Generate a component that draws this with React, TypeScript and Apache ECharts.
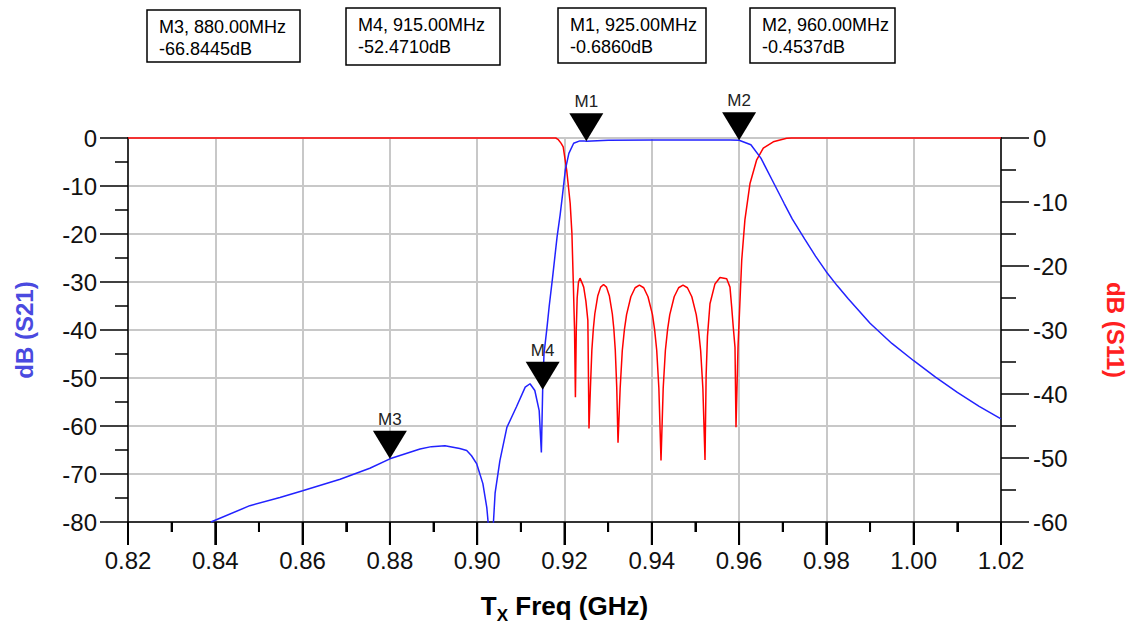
import React, { useEffect, useRef } from 'react';
import * as echarts from 'echarts';

// S21 (dB) – left axis
const s21Points: [number, number][] = [
  [0.839, -80], [0.8479, -76.6], [0.8548, -74.9], [0.86, -73.5], [0.8686, -71.1],
  [0.8754, -68.8], [0.88, -66.84], [0.8869, -64.8], [0.8895, -64.3], [0.8926, -64.1],
  [0.896, -64.7], [0.8976, -65.1], [0.8987, -66.2], [0.8999, -67.9], [0.9013, -72],
  [0.9022, -77], [0.9027, -82], [0.9031, -95], [0.9036, -82], [0.9041, -74],
  [0.9052, -67.2], [0.9068, -60.3], [0.909, -56], [0.911, -51.9], [0.9121, -51.2],
  [0.9132, -52.6], [0.9142, -56.8], [0.9145, -62], [0.9147, -65.5], [0.915, -52.47],
  [0.9153, -45], [0.916, -39.4], [0.9165, -35], [0.9172, -29.6], [0.9183, -20.6],
  [0.919, -16], [0.9195, -12.2], [0.9202, -6.6], [0.921, -3.2], [0.9221, -1.1],
  [0.9235, -0.6], [0.9244, -0.6], [0.925, -0.686], [0.93, -0.45], [0.94, -0.4],
  [0.95, -0.42], [0.958, -0.43], [0.96, -0.4537], [0.9627, -1.4], [0.965, -4.2],
  [0.9676, -8.8], [0.9703, -13.6], [0.9722, -16.9], [0.975, -21], [0.9775, -24.6],
  [0.98, -27.9], [0.9825, -30.8], [0.985, -33.5], [0.99, -38.6], [0.995, -42.8],
  [1.0, -46.4], [1.005, -49.8], [1.01, -53], [1.015, -55.9], [1.02, -58.5],
];

// S11 (dB) – right axis
const s11Points: [number, number][] = [
  [0.82, 0], [0.918, 0], [0.9185, -0.2], [0.9192, -0.8], [0.9197, -1.4], [0.9205, -5],
  [0.9213, -10.2], [0.9217, -14.9], [0.922, -22.2], [0.9223, -30], [0.9225, -40.5],
  [0.9227, -30], [0.9229, -25], [0.9232, -22.5], [0.92355, -21.9], [0.924, -22.6],
  [0.9244, -23.3], [0.9249, -25.5], [0.92535, -28.5], [0.92545, -34.8], [0.92561, -45.4],
  [0.92594, -39], [0.92627, -33.1], [0.92661, -29.8], [0.92694, -27.5], [0.92761, -24.7],
  [0.92828, -23.3], [0.92895, -22.9], [0.92962, -23.3], [0.93029, -24.7], [0.93096, -27.5],
  [0.9313, -29.8], [0.93163, -33.1], [0.93197, -39], [0.93226, -47.6],
  [0.93275, -39.1], [0.93324, -33.2], [0.93373, -29.9], [0.93422, -27.6], [0.9352, -24.8],
  [0.93618, -23.4], [0.93716, -23], [0.93815, -23.4], [0.93913, -24.8], [0.94015, -27.6],
  [0.94064, -29.9], [0.94113, -33.2], [0.94162, -39.1], [0.94211, -50.4],
  [0.94261, -39.1], [0.94311, -33.2], [0.94362, -29.9], [0.94412, -27.6], [0.94513, -24.8],
  [0.94614, -23.4], [0.94715, -23], [0.94816, -23.4], [0.94917, -24.8], [0.95018, -27.6],
  [0.95069, -29.9], [0.95119, -33.2], [0.9517, -39.1], [0.95219, -50.3],
  [0.95245, -37], [0.95275, -31], [0.95333, -25.9], [0.95447, -22.8], [0.95562, -21.8],
  [0.95716, -22], [0.95791, -23.3], [0.9583, -26.4], [0.95867, -29.6], [0.95906, -32.7],
  [0.95929, -45.2], [0.95975, -32.7], [0.9606, -19.1], [0.96133, -12.8], [0.9625, -7.1],
  [0.96403, -3.4], [0.96554, -1.6], [0.96783, -0.6], [0.9709, -0.05], [0.972, 0], [1.02, 0],
];

// Markers
const markerNames = ['M1', 'M2', 'M3', 'M4'];
const markerFreqGHz = [0.925, 0.96, 0.88, 0.915];
const markerDb = [-0.686, -0.4537, -66.8445, -52.471];

// Axes
const xMin = 0.82, xMax = 1.02, xStep = 0.02;
const leftMin = -80, leftMax = 0, leftStep = 10;
const rightMin = -60, rightMax = 0, rightStep = 10;

// X-axis tick positions (GHz): major at labels, minor halfway
const xMajorTicks = [0.82, 0.84, 0.86, 0.88, 0.9, 0.92, 0.94, 0.96, 0.98, 1.0, 1.02];
const xMinorTicks = [0.83, 0.85, 0.87, 0.89, 0.91, 0.93, 0.95, 0.97, 0.99, 1.01];

const FONT = '"Liberation Sans", Arial, sans-serif';

// Box placements for marker readouts (layout only)
const boxLayout: Record<string, [number, number, number, number]> = {
  M3: [147, 10, 153, 52],
  M4: [346, 8, 154, 57],
  M1: [558, 8, 148, 55],
  M2: [750, 8, 145, 55],
};

export default function App() {
  const ref = useRef<HTMLDivElement>(null);
  useEffect(() => {
    if (!ref.current) return;
    const chart = echarts.init(ref.current, undefined, { renderer: 'svg' });

    const graphics: any[] = [];
    markerNames.forEach((n, i) => {
      const [bx, by, bw, bh] = boxLayout[n];
      graphics.push({
        type: 'rect',
        shape: { x: bx, y: by, width: bw, height: bh },
        style: { fill: '#fff', stroke: '#000', lineWidth: 1.5 },
        z: 10,
      });
      graphics.push({
        type: 'text',
        x: bx + 12,
        y: by + 6,
        z: 11,
        style: {
          text: `${n}, ${(markerFreqGHz[i] * 1000).toFixed(2)}MHz\n${markerDb[i].toFixed(4)}dB`,
          font: `18px ${FONT}`,
          fill: '#000',
          lineHeight: 22,
          verticalAlign: 'top',
        },
      });
    });

    const tickStyle = { color: '#000', width: 1.5 };

    const option: any = {
      animation: false,
      backgroundColor: '#fff',
      grid: {
        left: 128, right: 131, top: 138, bottom: 106,
        containLabel: false, outerBoundsMode: 'none',
        show: true, borderColor: '#000', borderWidth: 1.5, backgroundColor: 'transparent',
      },
      xAxis: {
        type: 'value', min: xMin, max: xMax, interval: xStep, position: 'bottom',
        name: '{a|T}{b|X}{a| Freq (GHz)}',
        nameLocation: 'middle', nameGap: 66,
        nameTextStyle: {
          rich: {
            a: { fontSize: 26, fontWeight: 'bold', fontFamily: FONT, color: '#000', lineHeight: 36, verticalAlign: 'middle' },
            b: { fontSize: 17, fontWeight: 'bold', fontFamily: FONT, color: '#000', lineHeight: 17, verticalAlign: 'bottom' },
          },
        },
        axisLine: { show: true, onZero: false, lineStyle: tickStyle },
        axisTick: { show: true, inside: false, length: 23, lineStyle: { color: '#000', width: 2 } },
        minorTick: { show: true, splitNumber: 2, length: 10, lineStyle: { color: '#000', width: 2 } },
        axisLabel: {
          margin: 26, fontSize: 24, fontFamily: FONT, color: '#111',
          formatter: (v: number) => v.toFixed(2),
        },
        splitLine: { show: true, lineStyle: { color: '#c8c8c8', width: 2 } },
      },
      yAxis: [
        {
          type: 'value', min: leftMin, max: leftMax, interval: leftStep, position: 'left',
          name: 'dB (S21)', nameLocation: 'middle', nameGap: 92,
          nameTextStyle: { fontSize: 24, fontWeight: 'bold', fontFamily: FONT, color: '#4a4ae0' },
          axisLine: { show: true, onZero: false, lineStyle: tickStyle },
          axisTick: { show: true, length: 28, lineStyle: tickStyle },
          minorTick: { show: true, splitNumber: 2, length: 13, lineStyle: tickStyle },
          axisLabel: { margin: 31, fontSize: 24, fontFamily: FONT, color: '#111' },
          splitLine: { show: true, lineStyle: { color: '#c8c8c8', width: 2 } },
        },
        {
          type: 'value', min: rightMin, max: rightMax, interval: rightStep, position: 'right',
          name: 'dB (S11)', nameLocation: 'middle', nameGap: 102, nameRotate: -90,
          nameTextStyle: { fontSize: 24, fontWeight: 'bold', fontFamily: FONT, color: '#ff2020' },
          axisLine: { show: true, onZero: false, lineStyle: tickStyle },
          axisTick: { show: true, length: 28, lineStyle: tickStyle },
          minorTick: { show: true, splitNumber: 2, length: 15, lineStyle: tickStyle },
          axisLabel: { margin: 32, fontSize: 24, fontFamily: FONT, color: '#111' },
          splitLine: { show: false },
        },
      ],
      series: [
        {
          name: 'S11', type: 'line', yAxisIndex: 1, data: s11Points,
          showSymbol: false, symbol: 'none', clip: false, z: 2,
          lineStyle: { color: '#ff0000', width: 1.5 },
        },
        {
          name: 'S21', type: 'line', yAxisIndex: 0, data: s21Points,
          showSymbol: false, symbol: 'none', clip: true, z: 3,
          lineStyle: { color: '#2222ff', width: 1.5 },
          markPoint: {
            symbol: 'path://M0,0L34,0L17,28Z',
            symbolSize: [34, 28],
            symbolOffset: [0, '-50%'],
            itemStyle: { color: '#000' },
            label: {
              show: true, position: 'top', distance: 3,
              fontSize: 17, fontFamily: FONT, color: '#222',
              formatter: (p: any) => p.name,
            },
            data: markerNames.map((n, i) => ({ name: n, coord: [markerFreqGHz[i], markerDb[i]] })),
          },
        },
      ],
      graphic: graphics,
    };
    chart.setOption(option);

    // x-axis ticks, placed through the chart's own scales, on a top layer
    const tickEls: any[] = [];
    const addTick = (v: number, len: number) => {
      const p = chart.convertToPixel({ xAxisIndex: 0, yAxisIndex: 0 }, [v, leftMin]) as any;
      if (!p || !isFinite(p[0]) || !isFinite(p[1])) return;
      tickEls.push({
        type: 'rect',
        shape: { x: p[0] - 1, y: p[1], width: 2, height: len },
        style: { fill: '#000' },
        z: 1000,
        zlevel: 1,
        silent: true,
      });
    };
    xMajorTicks.forEach((v) => addTick(v, 23));
    xMinorTicks.forEach((v) => addTick(v, 10));
    chart.setOption({ graphic: [...graphics, ...tickEls] });

    return () => chart.dispose();
  }, []);

  return (
    <div
      ref={ref}
      style={{ position: 'fixed', left: 0, top: 0, width: 1132, height: 628, background: '#fff' }}
    />
  );
}
